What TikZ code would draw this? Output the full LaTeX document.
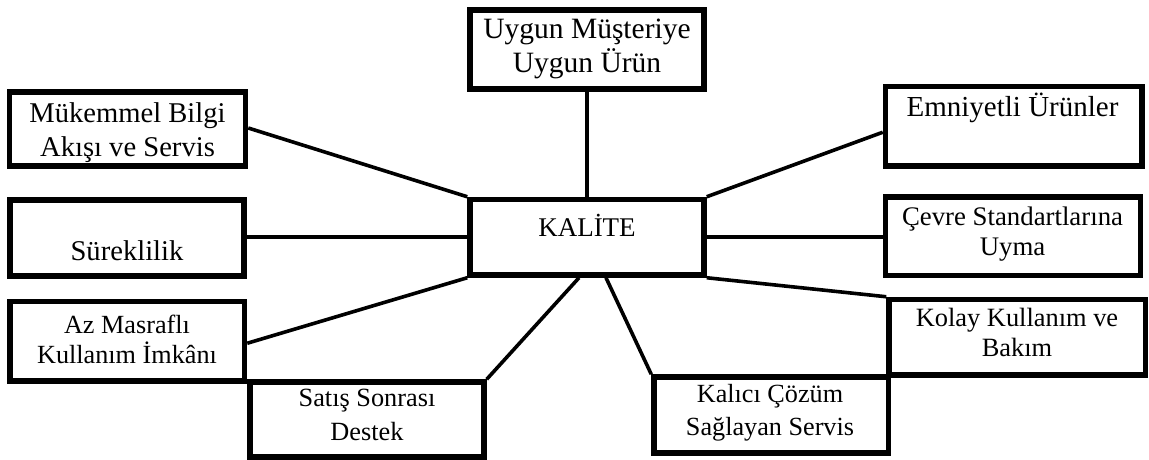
\documentclass[tikz,border=0pt]{standalone}
\usepackage{fontspec}
\setmainfont{Liberation Serif}
\usetikzlibrary{calc}
\tikzset{
  box/.style={draw=black, line width=5.5pt, rectangle, inner sep=0pt, fill=white},
  conn/.style={draw=black, line width=3.6pt},
  txt/.style={anchor=base, inner sep=0pt, text=black},
}
\newcommand{\fsz}[1]{\fontsize{#1}{#1}\selectfont}
\begin{document}
\begin{tikzpicture}[x=1pt,y=-1pt]
\useasboundingbox (0,0) rectangle (1149,460);
% boxes
\node[box, minimum width=234pt, minimum height=79pt] (b1) at (587,49.5) {};
\node[box, minimum width=236pt, minimum height=74pt] (b2) at (127.5,129) {};
\node[box, minimum width=256.5pt, minimum height=79.5pt] (b3) at (1013.75,126.25) {};
\node[box, minimum width=234pt, minimum height=76pt] (b4) at (127,238) {};
\node[box, minimum width=234pt, minimum height=75.5pt] (kal) at (587,237.25) {};
\node[box, minimum width=255pt, minimum height=78.5pt] (b6) at (1013,236.25) {};
\node[box, minimum width=234.5pt, minimum height=79.5pt] (b7) at (127.25,341.25) {};
\node[box, minimum width=256.5pt, minimum height=75.5pt] (b8) at (1017.25,337.25) {};
\node[box, minimum width=234pt, minimum height=75pt] (b9) at (367,419.5) {};
\node[box, minimum width=234.5pt, minimum height=76pt] (b10) at (771.25,415) {};
% connectors
\draw[conn] (b1.south) -- (kal.north);
\draw[conn] ($(b2.east)+(0,-1)$) -- (kal.north west);
\draw[conn] (kal.north east) -- ($(b3.west)+(0,6)$);
\draw[conn] (kal.west) -- (kal.west -| b4.east);
\draw[conn] (kal.east) -- (kal.east -| b6.west);
\draw[conn] (kal.south west) -- ($(b7.east)+(0,2)$);
\draw[conn] ($(kal.south)+(-8,0)$) -- (b9.north east);
\draw[conn] ($(kal.south)+(19,0)$) -- (b10.north west);
\draw[conn] (kal.south east) -- (b8.north west);
% texts
\node[txt, font=\fsz{29.5}] (t1a) at (587,39) {Uygun Müşteriye};
\node[txt, font=\fsz{29.5}] (t1b) at (587,73) {Uygun Ürün};
\node[txt, font=\fsz{28.6}] (t2a) at (127.5,122.7) {Mükemmel Bilgi};
\node[txt, font=\fsz{28.6}] (t2b) at (127.5,156) {Akışı ve Servis};
\node[txt, font=\fsz{29}] (t3) at (1012.5,117) {Emniyetli Ürünler};
\node[txt, font=\fsz{28.6}] (t4) at (127,260) {Süreklilik};
\node[txt, font=\fsz{27}] (tk) at (587,236.7) {KALİTE};
\node[txt, font=\fsz{26.8}] (t6a) at (1012.5,225) {Çevre Standartlarına};
\node[txt, font=\fsz{26.8}] (t6b) at (1012.5,255) {Uyma};
\node[txt, font=\fsz{26.2}] (t7a) at (127,333) {Az Masraflı};
\node[txt, font=\fsz{26.2}] (t7b) at (127,363) {Kullanım İmkânı};
\node[txt, font=\fsz{26.4}] (t8a) at (1017,326.7) {Kolay Kullanım ve};
\node[txt, font=\fsz{26.4}] (t8b) at (1017,356.7) {Bakım};
\node[txt, font=\fsz{26.3}] (t9a) at (367,406.7) {Satış Sonrası};
\node[txt, font=\fsz{26.3}] (t9b) at (367,440) {Destek};
\node[txt, font=\fsz{26.2}] (t10a) at (770,402) {Kalıcı Çözüm};
\node[txt, font=\fsz{26.2}] (t10b) at (770,435) {Sağlayan Servis};
\end{tikzpicture}
\end{document}
